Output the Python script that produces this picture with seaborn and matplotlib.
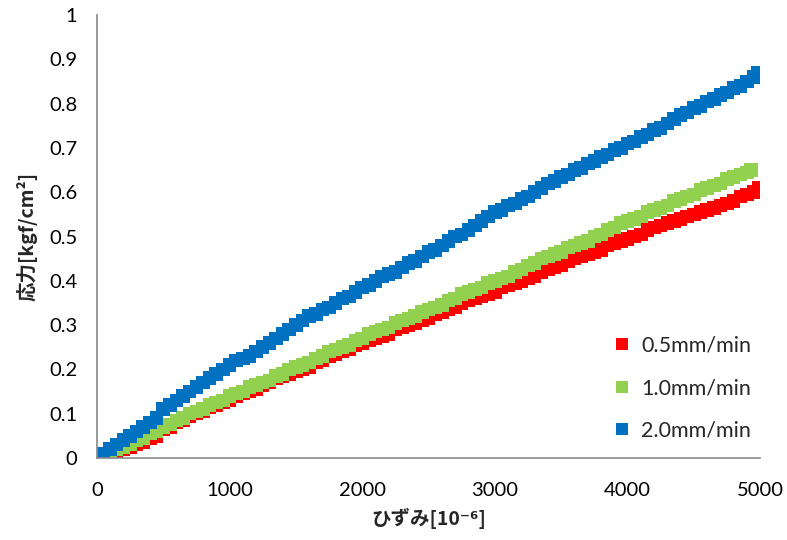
import numpy as np
import pandas as pd
import matplotlib
matplotlib.use("Agg")
import matplotlib.pyplot as plt
import seaborn as sns

# strain readings (10^-6)
strain = [0, 50, 100, 150, 200, 250, 300, 350, 400, 450,
          500, 550, 600, 650, 700, 750, 800, 850, 900, 950,
          1000, 1050, 1100, 1150, 1200, 1250, 1300, 1350, 1400, 1450,
          1500, 1550, 1600, 1650, 1700, 1750, 1800, 1850, 1900, 1950,
          2000, 2050, 2100, 2150, 2200, 2250, 2300, 2350, 2400, 2450,
          2500, 2550, 2600, 2650, 2700, 2750, 2800, 2850, 2900, 2950,
          3000, 3050, 3100, 3150, 3200, 3250, 3300, 3350, 3400, 3450,
          3500, 3550, 3600, 3650, 3700, 3750, 3800, 3850, 3900, 3950,
          4000, 4050, 4100, 4150, 4200, 4250, 4300, 4350, 4400, 4450,
          4500, 4550, 4600, 4650, 4700, 4750, 4800, 4850, 4900, 4950]

strain_05 = strain + [4990]
strain_10 = strain[:-1] + [4930]
strain_20 = strain + [4980]

stress_05 = [0.0, 0.0, 0.005, 0.01, 0.02, 0.025, 0.03, 0.035, 0.045, 0.05,
             0.065, 0.07, 0.08, 0.085, 0.095, 0.10, 0.105, 0.115, 0.12, 0.125,
             0.13, 0.14, 0.145, 0.15, 0.155, 0.165, 0.17, 0.18, 0.185, 0.19,
             0.195, 0.20, 0.205, 0.215, 0.22, 0.23, 0.235, 0.24, 0.245, 0.255,
             0.26, 0.265, 0.27, 0.275, 0.28, 0.29, 0.295, 0.30, 0.305, 0.31,
             0.315, 0.325, 0.33, 0.335, 0.34, 0.35, 0.355, 0.36, 0.365, 0.37,
             0.375, 0.385, 0.39, 0.395, 0.40, 0.405, 0.41, 0.42, 0.425, 0.43,
             0.435, 0.445, 0.45, 0.455, 0.46, 0.465, 0.47, 0.48, 0.485, 0.49,
             0.495, 0.50, 0.505, 0.515, 0.52, 0.525, 0.53, 0.535, 0.54, 0.545,
             0.55, 0.555, 0.56, 0.565, 0.57, 0.575, 0.58, 0.59, 0.595, 0.60,
             0.61]

stress_10 = [0.0, 0.005, 0.01, 0.02, 0.025, 0.03, 0.04, 0.045, 0.055, 0.06,
             0.07, 0.075, 0.085, 0.09, 0.10, 0.105, 0.11, 0.12, 0.125, 0.13,
             0.14, 0.145, 0.15, 0.16, 0.165, 0.17, 0.175, 0.185, 0.19, 0.20,
             0.205, 0.21, 0.215, 0.225, 0.23, 0.24, 0.245, 0.25, 0.255, 0.265,
             0.27, 0.28, 0.285, 0.29, 0.295, 0.305, 0.31, 0.315, 0.32, 0.33,
             0.335, 0.34, 0.345, 0.355, 0.36, 0.37, 0.375, 0.38, 0.385, 0.395,
             0.40, 0.405, 0.41, 0.42, 0.425, 0.435, 0.44, 0.45, 0.455, 0.46,
             0.465, 0.475, 0.48, 0.485, 0.49, 0.50, 0.505, 0.515, 0.52, 0.53,
             0.535, 0.54, 0.545, 0.555, 0.56, 0.565, 0.57, 0.58, 0.585, 0.59,
             0.595, 0.605, 0.61, 0.615, 0.62, 0.63, 0.635, 0.64, 0.645,
             0.65]

stress_20 = [0.0, 0.01, 0.02, 0.03, 0.04, 0.05, 0.06, 0.07, 0.08, 0.09,
             0.11, 0.12, 0.13, 0.14, 0.15, 0.16, 0.17, 0.18, 0.19, 0.20,
             0.21, 0.22, 0.225, 0.23, 0.24, 0.25, 0.26, 0.27, 0.28, 0.29,
             0.30, 0.31, 0.32, 0.325, 0.335, 0.34, 0.35, 0.36, 0.365, 0.375,
             0.385, 0.39, 0.40, 0.41, 0.415, 0.42, 0.43, 0.44, 0.445, 0.455,
             0.465, 0.47, 0.48, 0.49, 0.50, 0.505, 0.515, 0.525, 0.535, 0.545,
             0.555, 0.56, 0.57, 0.575, 0.585, 0.59, 0.60, 0.61, 0.62, 0.625,
             0.635, 0.64, 0.65, 0.655, 0.665, 0.67, 0.68, 0.685, 0.695, 0.70,
             0.71, 0.715, 0.725, 0.73, 0.74, 0.745, 0.755, 0.765, 0.775, 0.78,
             0.79, 0.795, 0.805, 0.81, 0.82, 0.825, 0.835, 0.84, 0.85, 0.86,
             0.87]

labels = ["0.5mm/min", "1.0mm/min", "2.0mm/min"]
colors = ["#FF0000", "#92D050", "#0070C0"]

df = pd.concat([
    pd.DataFrame({"strain": strain_05, "stress": stress_05, "series": labels[0]}),
    pd.DataFrame({"strain": strain_10, "stress": stress_10, "series": labels[1]}),
    pd.DataFrame({"strain": strain_20, "stress": stress_20, "series": labels[2]}),
], ignore_index=True)

sns.set_style("white")
plt.rcParams["font.family"] = ["Lato", "DejaVu Sans"]

fig = plt.figure(figsize=(7.87, 5.40), dpi=100)
ax = fig.add_axes([0.123, 0.152, 0.843, 0.820])

sns.scatterplot(data=df, x="strain", y="stress", hue="series", hue_order=labels,
                palette=colors, marker="s", s=95, linewidth=0, ax=ax, legend=True)

ax.set_xlim(0, 5000)
ax.set_ylim(0, 1)
ax.set_xticks(np.arange(0, 5001, 1000))
ax.set_yticks(np.arange(0, 1.01, 0.1))
ax.set_yticklabels(["0"] + [f"{v:.1f}" for v in np.arange(0.1, 0.95, 0.1)] + ["1"])

for s in ["top", "right"]:
    ax.spines[s].set_visible(False)
for s in ["left", "bottom"]:
    ax.spines[s].set_color("#898989")
    ax.spines[s].set_linewidth(1.2)
ax.tick_params(axis="both", direction="in", length=5, width=1.2, color="#898989",
               labelsize=14.5, labelcolor="black")
ax.tick_params(axis="y", pad=14)
ax.tick_params(axis="x", pad=17)

jp = ["Noto Sans CJK JP", "DejaVu Sans"]
ax.set_xlabel("ひずみ[10⁻⁶]", fontsize=14, fontweight="bold", family=jp, labelpad=7)
ax.set_ylabel("応力[kgf/cm²]", fontsize=14, fontweight="bold", family=jp, labelpad=8)

leg = ax.legend(loc="lower right", bbox_to_anchor=(1.012, 0.0), frameon=False,
                fontsize=15.5, labelspacing=1.05, handlelength=0.9, handletextpad=0.45,
                markerscale=0.95, borderaxespad=0.4)

fig.savefig("out.png", dpi=100)
